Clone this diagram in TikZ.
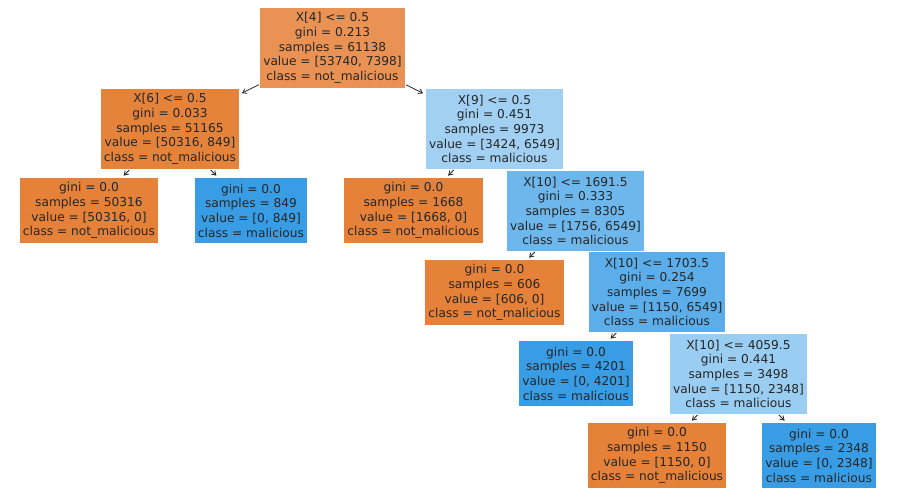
\documentclass[tikz,border=0pt]{standalone}
\usepackage{fontspec}
\setmainfont{DejaVu Sans}
\usetikzlibrary{arrows.meta,backgrounds}
\definecolor{txt}{RGB}{38,38,38}
\definecolor{cRoot}{RGB}{233,146,84}
\definecolor{cOrange}{RGB}{229,129,57}
\definecolor{cXsix}{RGB}{230,131,59}
\definecolor{cBlue}{RGB}{57,157,229}
\definecolor{cXnine}{RGB}{161,208,243}
\definecolor{cA}{RGB}{110,183,236}
\definecolor{cB}{RGB}{92,174,234}
\definecolor{cC}{RGB}{154,205,242}
\tikzset{
  treenode/.style={inner sep=0pt, align=center, text=txt,
    font=\fontsize{12.2pt}{14.7pt}\selectfont},
  inner/.style={treenode, minimum height=80pt},
  leaf/.style={treenode, minimum height=65pt},
  edge/.style={-{Straight Barb[length=4pt,width=5pt]}, line width=0.8pt, black!85,
    shorten >=3pt, shorten <=1pt}
}
\begin{document}
\begin{tikzpicture}[x=1pt,y=-1pt]
\useasboundingbox (0,0) rectangle (907,503);
\node[inner, fill=cRoot, minimum width=145pt] (root) at (332.5,48)
  {X[4] <= 0.5\\gini = 0.213\\samples = 61138\\value = [53740, 7398]\\class = not\_malicious};
\node[inner, fill=cXsix, minimum width=138pt] (x6) at (170,129)
  {X[6] <= 0.5\\gini = 0.033\\samples = 51165\\value = [50316, 849]\\class = not\_malicious};
\node[inner, fill=cXnine, minimum width=137pt] (x9) at (494.5,129)
  {X[9] <= 0.5\\gini = 0.451\\samples = 9973\\value = [3424, 6549]\\class = malicious};
\node[leaf, fill=cOrange, minimum width=138pt] (l1) at (89,210.5)
  {gini = 0.0\\samples = 50316\\value = [50316, 0]\\class = not\_malicious};
\node[leaf, fill=cBlue, minimum width=112pt] (l2) at (251,210.5)
  {gini = 0.0\\samples = 849\\value = [0, 849]\\class = malicious};
\node[leaf, fill=cOrange, minimum width=139pt] (l3) at (413.5,210.5)
  {gini = 0.0\\samples = 1668\\value = [1668, 0]\\class = not\_malicious};
\node[inner, fill=cA, minimum width=137pt] (n1) at (575.5,211)
  {X[10] <= 1691.5\\gini = 0.333\\samples = 8305\\value = [1756, 6549]\\class = malicious};
\node[leaf, fill=cOrange, minimum width=139pt] (l4) at (494.5,292.5)
  {gini = 0.0\\samples = 606\\value = [606, 0]\\class = not\_malicious};
\node[inner, fill=cB, minimum width=136pt] (n2) at (657,292)
  {X[10] <= 1703.5\\gini = 0.254\\samples = 7699\\value = [1150, 6549]\\class = malicious};
\node[leaf, fill=cBlue, minimum width=114pt] (l5) at (576,373.5)
  {gini = 0.0\\samples = 4201\\value = [0, 4201]\\class = malicious};
\node[inner, fill=cC, minimum width=137pt] (n3) at (738.5,374)
  {X[10] <= 4059.5\\gini = 0.441\\samples = 3498\\value = [1150, 2348]\\class = malicious};
\node[leaf, fill=cOrange, minimum width=138pt] (l6) at (657,455.5)
  {gini = 0.0\\samples = 1150\\value = [1150, 0]\\class = not\_malicious};
\node[leaf, fill=cBlue, minimum width=114pt] (l7) at (819,455.5)
  {gini = 0.0\\samples = 2348\\value = [0, 2348]\\class = malicious};
\begin{pgfonlayer}{background}
\draw[edge] (root) -- (x6);
\draw[edge] (root) -- (x9);
\draw[edge] (x6) -- (l1);
\draw[edge] (x6) -- (l2);
\draw[edge] (x9) -- (l3);
\draw[edge] (x9) -- (n1);
\draw[edge] (n1) -- (l4);
\draw[edge] (n2) -- (l5);
\draw[edge] (n3) -- (l6);
\draw[edge] (n3) -- (l7);
\end{pgfonlayer}
\end{tikzpicture}
\end{document}
